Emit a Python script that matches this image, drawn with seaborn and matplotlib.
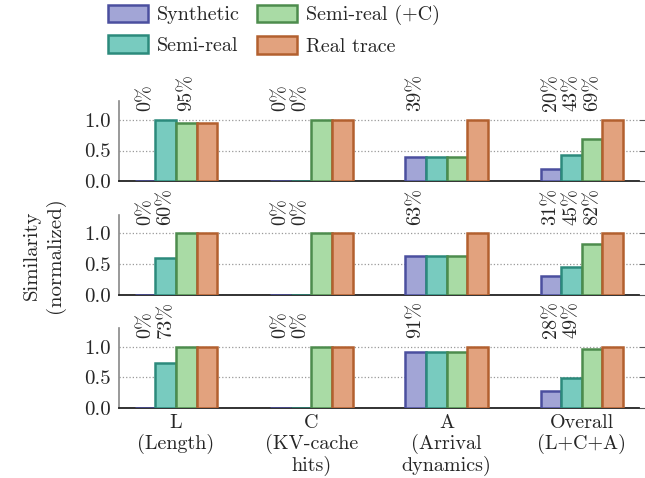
import pandas as pd
import matplotlib
matplotlib.use("Agg")
import matplotlib.pyplot as plt
from matplotlib.patches import Patch
import seaborn as sns

# data
groups = ["L\n(Length)", "C\n(KV-cache\nhits)", "A\n(Arrival\ndynamics)", "Overall\n(L+C+A)"]
series = ["Synthetic", "Semi-real", "Semi-real (+C)", "Real trace"]

# one inner list per panel row (top, middle, bottom)
synthetic = [[0.0, 0.0, 0.39, 0.20], [0.0, 0.0, 0.63, 0.31], [0.0, 0.0, 0.91, 0.28]]
semi_real = [[1.0, 0.0, 0.39, 0.43], [0.60, 0.0, 0.63, 0.45], [0.73, 0.0, 0.91, 0.49]]
semi_real_c = [[0.95, 1.0, 0.39, 0.69], [1.0, 1.0, 0.63, 0.82], [1.0, 1.0, 0.91, 0.97]]
real_trace = [[0.95, 1.0, 1.0, 1.0], [1.0, 1.0, 1.0, 1.0], [1.0, 1.0, 1.0, 1.0]]

synthetic_lab = [["0%", "0%", "39%", "20%"], ["0%", "0%", "63%", "31%"], ["0%", "0%", "91%", "28%"]]
semi_real_lab = [["", "0%", "", "43%"], ["60%", "0%", "", "45%"], ["73%", "0%", "", "49%"]]
semi_real_c_lab = [["95%", "", "", "69%"], ["", "", "", "82%"], ["", "", "", ""]]
real_trace_lab = [["", "", "", ""], ["", "", "", ""], ["", "", "", ""]]

fills = ["#a2a5d6", "#78cbbf", "#a9dba5", "#e2a27e"]
edges = ["#4b4f9f", "#2c8a7c", "#4d8c4d", "#b3602f"]

sns.set_style("white")
plt.rcParams["font.family"] = ["cmr10", "DejaVu Serif"]
plt.rcParams["mathtext.fontset"] = "cm"
plt.rcParams["axes.unicode_minus"] = False

fig, axes = plt.subplots(3, 1, figsize=(6.45, 4.78), dpi=100, sharex=True)
fig.subplots_adjust(left=0.185, right=0.99, top=0.788, bottom=0.146, hspace=0.42)

all_vals = [synthetic, semi_real, semi_real_c, real_trace]
all_labs = [synthetic_lab, semi_real_lab, semi_real_c_lab, real_trace_lab]

for r, ax in enumerate(axes):
    rows = []
    for s, name in enumerate(series):
        for g, grp in enumerate(groups):
            rows.append({"group": grp, "series": name, "value": all_vals[s][r][g]})
    df = pd.DataFrame(rows)
    sns.barplot(data=df, x="group", y="value", hue="series", hue_order=series,
                order=groups, palette=fills, saturation=1, width=0.61,
                legend=False, ax=ax, zorder=3)
    for s, cont in enumerate(ax.containers):
        for g, bar in enumerate(cont):
            bar.set_edgecolor(edges[s])
            bar.set_linewidth(1.8)
            txt = all_labs[s][r][g]
            if txt:
                ax.text(bar.get_x() + bar.get_width() / 2, 1.14, txt,
                        rotation=90, ha="center", va="bottom", fontsize=14.5,
                        clip_on=False)
    ax.set_ylim(0, 1.3)
    ax.set_xlim(-0.42, 3.42)
    ax.set_yticks([0.0, 0.5, 1.0])
    ax.set_yticklabels(["0.0", "0.5", "1.0"], fontsize=15)
    ax.yaxis.grid(True, linestyle=":", color="#999999", linewidth=0.9, zorder=0)
    ax.set_xlabel("")
    ax.set_ylabel("")
    ax.spines["top"].set_visible(False)
    ax.spines["right"].set_visible(False)
    ax.spines["left"].set_color("#888888")
    ax.spines["left"].set_linewidth(1.2)
    ax.spines["bottom"].set_color("#222222")
    ax.spines["bottom"].set_linewidth(1.3)
    ax.tick_params(axis="y", left=False, right=True, length=4, color="#555555", pad=2)
    ax.tick_params(axis="x", bottom=False, labelsize=14.5, pad=1)

axes[-1].set_xticks(range(len(groups)))
axes[-1].set_xticklabels(groups, fontsize=14.5, linespacing=1.12)

fig.text(0.068, 0.466, "Similarity\n(normalized)", rotation=90, ha="center",
         va="center", fontsize=15, linespacing=1.3)

handles = [Patch(facecolor=fills[i], edgecolor=edges[i], linewidth=1.8, label=series[i])
           for i in range(len(series))]
fig.legend(handles=handles, loc="upper center", bbox_to_anchor=(0.425, 1.028), ncol=2,
           frameon=False, fontsize=14.5, handlelength=2.0, handleheight=0.95,
           columnspacing=0.85, handletextpad=0.45, labelspacing=0.55)

fig.savefig("out.png", dpi=100)
